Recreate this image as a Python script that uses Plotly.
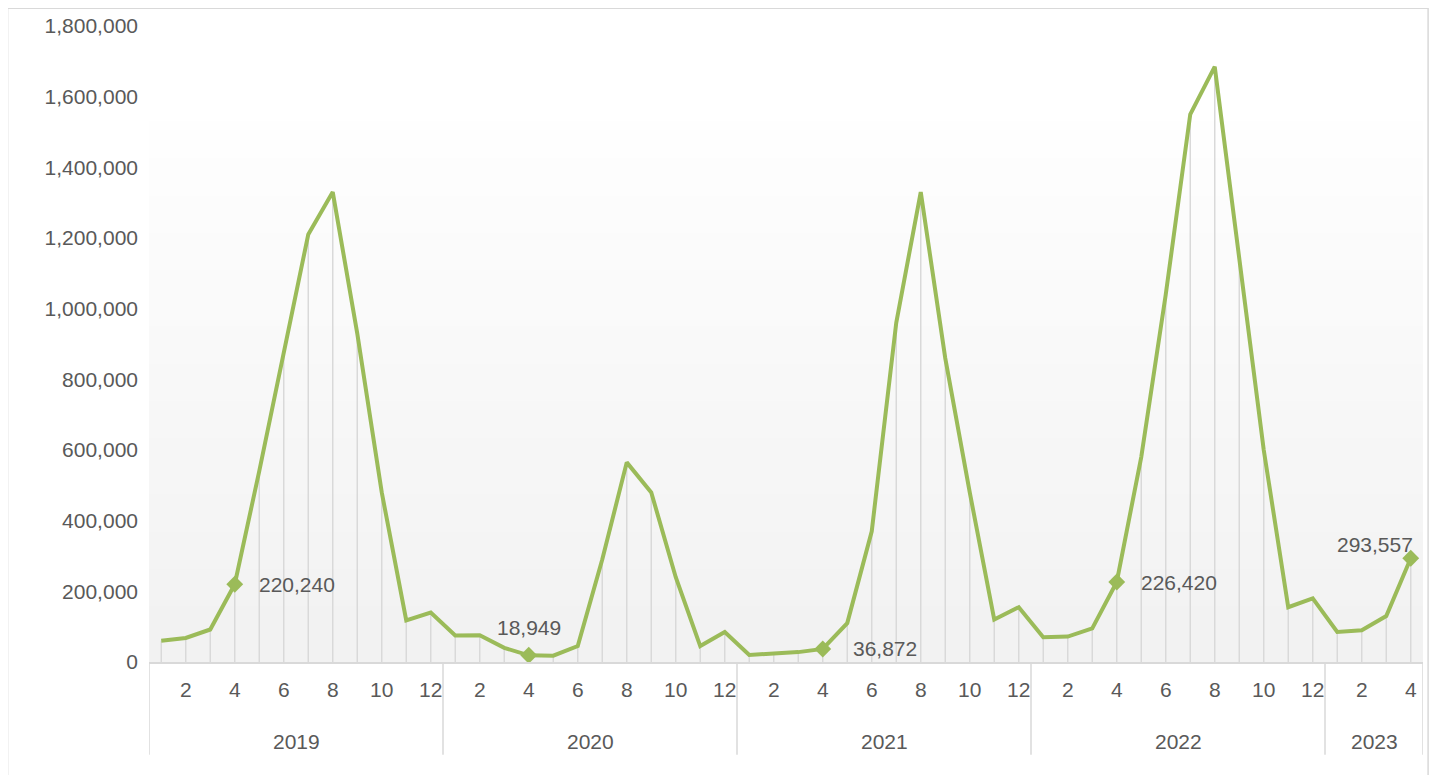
import plotly.graph_objects as go

years = ["2019", "2020", "2021", "2022", "2023"]
months_per_year = [12, 12, 12, 12, 4]
values = [
    60000, 68000, 92000, 220240, 540000, 880000, 1210000, 1330000, 930000, 480000, 118000, 140000,
    75000, 76000, 40000, 18949, 18000, 45000, 290000, 565000, 480000, 240000, 45000, 85000,
    20000, 24000, 28000, 36872, 110000, 370000, 960000, 1330000, 860000, 480000, 120000, 155000,
    70000, 72000, 95000, 226420, 580000, 1040000, 1550000, 1685000, 1150000, 600000, 155000, 180000,
    85000, 90000, 130000, 293557,
]
labelled = {3: "220,240", 15: "18,949", 27: "36,872", 39: "226,420", 51: "293,557"}

month_nums = [m for n in months_per_year for m in range(1, n + 1)]
x = list(range(len(values)))
font = "Liberation Sans"
grey = "#595959"
fs = 21

fig = go.Figure()

# drop lines
for xi, v in zip(x, values):
    fig.add_shape(type="line", x0=xi, x1=xi, y0=0, y1=v, line=dict(color="#d9d9d9", width=1.5), layer="below")

fig.add_trace(go.Scatter(x=x, y=values, mode="lines", line=dict(color="#9bbb59", width=4), hoverinfo="skip"))
lx = list(labelled)
fig.add_trace(go.Scatter(
    x=lx, y=[values[i] for i in lx], mode="markers",
    marker=dict(symbol="diamond", size=13, color="#9bbb59"), hoverinfo="skip"))

pos = {3: (62, 0), 15: (0, -28), 27: (62, 0), 39: (62, 0), 51: (-36, -14)}
for i, t in labelled.items():
    dx, dy = pos[i]
    fig.add_annotation(x=i, y=values[i], text=t, showarrow=False, xshift=dx, yshift=-dy,
                       font=dict(family=font, size=fs, color=grey))

# gradient background
steps = 30
for k in range(steps):
    c = int(242 + 13 * k / (steps - 1))
    y0 = 0 + k * (0.88 / steps)
    fig.add_shape(type="rect", xref="paper", yref="paper", x0=0, x1=1, y0=y0, y1=y0 + 0.88 / steps + 0.002,
                  fillcolor=f"rgb({c},{c},{c})", line=dict(width=0), layer="below")

# year separators and labels
start = 0
fig.add_shape(type="line", xref="x", yref="paper", x0=-0.5, x1=-0.5, y0=0, y1=-0.146,
              line=dict(color="#d9d9d9", width=1.5))
for yr, n in zip(years, months_per_year):
    end = start + n
    fig.add_shape(type="line", xref="x", yref="paper", x0=end - 0.5, x1=end - 0.5, y0=0, y1=-0.146,
                  line=dict(color="#d9d9d9", width=1.5))
    fig.add_annotation(x=(start + end - 1) / 2, y=-0.146, xref="x", yref="paper", text=yr, showarrow=False,
                       font=dict(family=font, size=fs, color=grey))
    start = end

tickvals = [i for i in x if month_nums[i] % 2 == 0]
fig.update_xaxes(range=[-0.5, len(values) - 0.5], tickvals=tickvals,
                 ticktext=[str(month_nums[i]) for i in tickvals], showgrid=False, zeroline=False,
                 showline=True, linecolor="#d9d9d9", linewidth=1.5, ticks="", ticklabelstandoff=8,
                 tickfont=dict(family=font, size=fs, color=grey))
fig.update_yaxes(range=[0, 1800000], dtick=200000, tickformat=",", showgrid=False, zeroline=False,
                 tickfont=dict(family=font, size=fs, color=grey), ticklabelstandoff=10)
fig.add_shape(type="rect", xref="paper", yref="paper", x0=-0.111, x1=1.004, y0=-0.18, y1=1.028,
              line=dict(color="#d9d9d9", width=1.5))
fig.update_layout(width=1421, height=767, margin=dict(l=141, r=6, t=15, b=113),
                  plot_bgcolor="white", paper_bgcolor="white", showlegend=False)
fig.write_html("out.html")
